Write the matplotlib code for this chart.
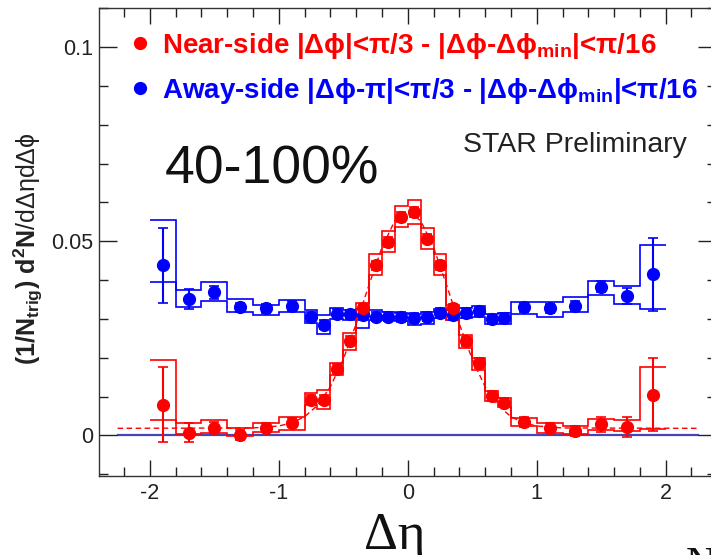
import numpy as np
import matplotlib
matplotlib.use("Agg")
import matplotlib.pyplot as plt

plt.rcParams['font.family'] = ['Liberation Sans', 'DejaVu Sans']
plt.rcParams['mathtext.fontset'] = 'custom'
plt.rcParams['mathtext.rm'] = 'Liberation Sans'
plt.rcParams['mathtext.it'] = 'Liberation Sans:italic'
plt.rcParams['mathtext.bf'] = 'Liberation Sans:bold'
plt.rcParams['mathtext.default'] = 'regular'
plt.rcParams['axes.unicode_minus'] = False

# bins in delta eta
deta = [-1.9, -1.7, -1.5, -1.3, -1.1, -0.9, -0.75, -0.65, -0.55, -0.45, -0.35, -0.25, -0.15, -0.05,
        0.05, 0.15, 0.25, 0.35, 0.45, 0.55, 0.65, 0.75, 0.9, 1.1, 1.3, 1.5, 1.7, 1.9]
edges = [-2.0, -1.8, -1.6, -1.4, -1.2, -1.0, -0.8, -0.7, -0.6, -0.5, -0.4, -0.3, -0.2, -0.1, 0.0,
         0.1, 0.2, 0.3, 0.4, 0.5, 0.6, 0.7, 0.8, 1.0, 1.2, 1.4, 1.6, 1.8, 2.0]

# near-side
near = [0.0079, 0.0007, 0.0020, 0.0001, 0.0020, 0.0033, 0.0092, 0.0092, 0.0172, 0.0244, 0.0327, 0.0438,
        0.0498, 0.0562, 0.0575, 0.0507, 0.0438, 0.0327, 0.0242, 0.0186, 0.0101, 0.0084, 0.0034, 0.0020,
        0.0011, 0.0028, 0.0022, 0.0105]
near_err = [0.0096, 0.0025, 0.0015, 0.0012, 0.0012, 0.0012, 0.0012, 0.0012, 0.0012, 0.0012, 0.0012, 0.0012,
            0.0012, 0.0012, 0.0012, 0.0012, 0.0012, 0.0012, 0.0012, 0.0012, 0.0012, 0.0012, 0.0012, 0.0012,
            0.0013, 0.0019, 0.0026, 0.0093]
near_sys_hi = [0.0193, 0.0032, 0.0039, 0.0020, 0.0031, 0.0046, 0.0109, 0.0116, 0.0186, 0.0263, 0.0340, 0.0467,
               0.0526, 0.0592, 0.0605, 0.0535, 0.0467, 0.0336, 0.0259, 0.0199, 0.0114, 0.0097, 0.0045, 0.0031,
               0.0024, 0.0041, 0.0039, 0.0176]
near_sys_lo = [0.0039, 0.0003, 0.0007, -0.0002, 0.0008, 0.0015, 0.0077, 0.0068, 0.0156, 0.0221, 0.0310, 0.0413,
               0.0473, 0.0537, 0.0545, 0.0479, 0.0413, 0.0296, 0.0225, 0.0169, 0.0088, 0.0072, 0.0024, 0.0007,
               0.0003, 0.0015, 0.0011, 0.0017]

# away-side
away = [0.0438, 0.0351, 0.0368, 0.0330, 0.0327, 0.0333, 0.0306, 0.0285, 0.0313, 0.0312, 0.0310, 0.0306,
        0.0306, 0.0305, 0.0302, 0.0306, 0.0315, 0.0310, 0.0315, 0.0319, 0.0299, 0.0302, 0.0330, 0.0327,
        0.0333, 0.0383, 0.0359, 0.0415]
away_err = [0.0097, 0.0025, 0.0017, 0.0012, 0.0012, 0.0012, 0.0012, 0.0012, 0.0012, 0.0012, 0.0012, 0.0012,
            0.0012, 0.0012, 0.0012, 0.0012, 0.0012, 0.0012, 0.0012, 0.0012, 0.0012, 0.0012, 0.0012, 0.0012,
            0.0012, 0.0014, 0.0020, 0.0094]
away_sys_hi = [0.0554, 0.0374, 0.0396, 0.0351, 0.0336, 0.0349, 0.0323, 0.0310, 0.0327, 0.0322, 0.0325, 0.0323,
               0.0318, 0.0316, 0.0313, 0.0318, 0.0326, 0.0322, 0.0328, 0.0333, 0.0312, 0.0315, 0.0344, 0.0343,
               0.0356, 0.0398, 0.0385, 0.0490]
away_sys_lo = [0.0396, 0.0330, 0.0347, 0.0317, 0.0309, 0.0317, 0.0289, 0.0262, 0.0300, 0.0298, 0.0277, 0.0296,
               0.0296, 0.0294, 0.0285, 0.0288, 0.0302, 0.0296, 0.0303, 0.0306, 0.0286, 0.0287, 0.0313, 0.0304,
               0.0317, 0.0362, 0.0338, 0.0326]

# near-side fit curve
fit_x = [-2.25, -1.2, -1.0, -0.9, -0.8, -0.7, -0.6, -0.5, -0.4, -0.3, -0.2, -0.1, 0.0,
         0.1, 0.2, 0.3, 0.4, 0.5, 0.6, 0.7, 0.8, 0.9, 1.0, 1.2, 2.25]
fit_y = [0.0018, 0.0019, 0.0024, 0.0032, 0.0048, 0.0077, 0.0125, 0.0196, 0.0287, 0.0388, 0.0484, 0.0553, 0.0578,
         0.0553, 0.0484, 0.0388, 0.0287, 0.0196, 0.0125, 0.0077, 0.0048, 0.0032, 0.0024, 0.0019, 0.0018]
zero_x = [-2.25, 2.25]
zero_y = [0.0, 0.0]

RED = '#ff0000'
BLUE = '#0000ff'

fig = plt.figure(figsize=(7.11, 5.55), dpi=100)
W, H = 711.0, 555.0
ax = fig.add_axes([99 / W, 1 - 475.7 / H, 617 / W, 467.4 / H])

ax.plot(zero_x, zero_y, color='#4545b5', lw=1.6, zorder=1)

for vals, err, hi, lo, col in [(away, away_err, away_sys_hi, away_sys_lo, BLUE),
                                (near, near_err, near_sys_hi, near_sys_lo, RED)]:
    ax.stairs(hi, edges, baseline=None, color=col, lw=1.2, zorder=2)
    ax.stairs(lo, edges, baseline=None, color=col, lw=1.2, zorder=2)
    ax.errorbar(deta, vals, yerr=err, fmt='o', color=col, ms=8.5, elinewidth=1.5,
                capsize=3.5, capthick=1.2, zorder=4)

ax.plot(fit_x, fit_y, color=RED, lw=1.0, ls=(0, (4, 2.5)), zorder=3)

ax.set_xlim(-2.394, 2.39)
ax.set_ylim(-0.0104, 0.1088)
ax.set_xticks([-2, -1, 0, 1, 2])
ax.set_xticks(np.arange(-2.2, 2.21, 0.2), minor=True)
ax.set_yticks([0, 0.05, 0.1])
ax.set_yticklabels(['0', '0.05', '0.1'])
ax.set_yticks(np.arange(-0.01, 0.111, 0.01), minor=True)
ax.tick_params(axis='both', which='both', direction='in', top=True, right=True,
               labelsize=15.5, labelcolor='#222222', color='#222222', width=1.0)
ax.tick_params(axis='x', which='major', length=11.5, pad=5)
ax.tick_params(axis='x', which='minor', length=6.5)
ax.tick_params(axis='y', which='major', length=13, pad=4)
ax.tick_params(axis='y', which='minor', length=6.5)
for s in ax.spines.values():
    s.set_color('#333333')
    s.set_linewidth(1.0)

# legend
ax.plot([0.0665], [0.926], 'o', color=RED, ms=8.5, transform=ax.transAxes, clip_on=False)
ax.plot([0.0665], [0.8295], 'o', color=BLUE, ms=8.5, transform=ax.transAxes, clip_on=False)
ax.text(0.102, 0.904, 'Near-side |Δϕ|<π/3 - |Δϕ-Δϕ$_{\\mathregular{min}}$|<π/16',
        transform=ax.transAxes, color=RED, fontsize=20, fontweight='bold', va='baseline')
ax.text(0.102, 0.8086, 'Away-side |Δϕ-π|<π/3 - |Δϕ-Δϕ$_{\\mathregular{min}}$|<π/16',
        transform=ax.transAxes, color=BLUE, fontsize=20, fontweight='bold', va='baseline')

ax.text(0.590, 0.6925, 'STAR Preliminary', transform=ax.transAxes, fontsize=20.5,
        color='#222222', va='baseline')
ax.text(0.107, 0.6262, '40-100%', transform=ax.transAxes, fontsize=38.5,
        color='#111111', va='baseline')

fig.text(28 / W, 1 - 365 / H, r'$\mathbf{(1/N_{trig})\ d^{2}N}$/dΔηdΔϕ',
         rotation=90, ha='center', va='bottom', fontsize=18, color='#222222')

fig.text(395 / W, 1 - 549 / H, 'Δη', family=['Liberation Serif', 'DejaVu Serif'], fontsize=38,
         ha='center', va='baseline', color='#111111')
fig.text(686 / W, 1 - 546 / H, 'N', family=['Liberation Serif'], fontsize=30,
         ha='left', va='top', color='#111111')

fig.savefig('out.png', dpi=100)
